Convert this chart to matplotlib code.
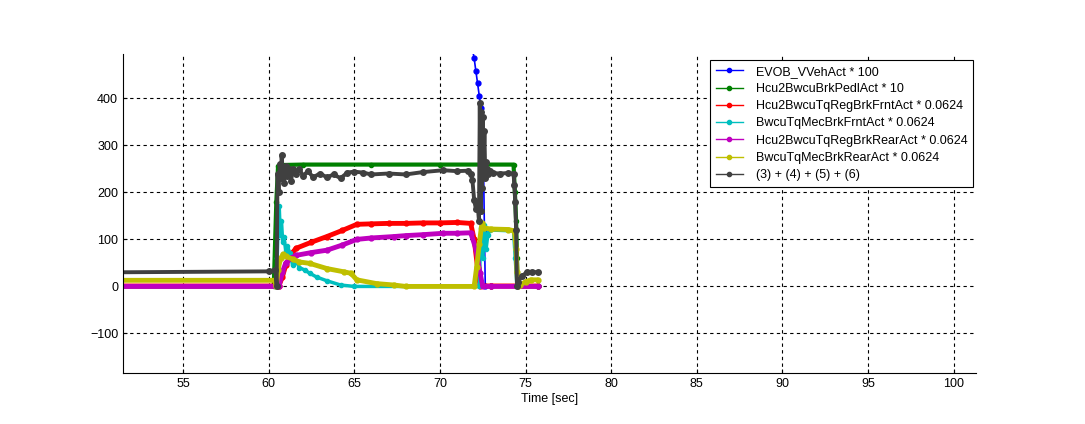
import matplotlib
matplotlib.use("Agg")
import matplotlib.pyplot as plt
from matplotlib.lines import Line2D

plt.rcParams['font.family'] = ['Liberation Sans', 'DejaVu Sans']

# series (time in sec, scaled value)
blue_t = [51.0, 60.0, 70.0, 71.6, 71.9, 72.0, 72.1, 72.2, 72.3, 72.4, 72.47, 72.55, 72.6, 72.65, 73.0, 75.7]
blue_v = [2500, 2200, 900, 600, 505, 485, 458, 432, 405, 380, 360, 250, 120, 0, 0, 0]

green_t = [51.0, 60.3, 60.45, 60.55, 60.7, 62.0, 66.0, 70.0, 74.3, 74.38, 74.45, 74.5, 74.55, 75.7]
green_v = [0, 0, 180, 255, 258, 259, 259, 259, 259, 200, 140, 60, 0, 0]

red_t = [51.0, 60.6, 60.8, 61.0, 61.35, 61.6, 62.5, 63.4, 64.3, 65.15, 66.0, 67.0, 68.0, 69.0,
         70.0, 71.0, 71.8, 72.0, 72.2, 72.35, 73.0, 75.7]
red_v = [1, 1, 20, 45, 70, 81, 94, 106, 119, 132, 133, 134, 134, 135, 135, 136, 134, 100, 40, 1, 1, 1]

cyan_t = [51.0, 60.4, 60.5, 60.55, 60.62, 60.68, 60.75, 60.82, 60.9, 61.0, 61.1, 61.25, 61.4, 61.6,
          61.8, 62.1, 62.4, 62.8, 63.4, 64.2, 65.0, 72.3, 72.4, 72.5, 72.6, 72.7, 72.8, 72.9,
          74.3, 74.4, 74.5, 75.7]
cyan_v = [0, 0, 60, 120, 170, 110, 140, 95, 105, 75, 85, 70, 45, 55, 40, 35, 28, 20, 12, 3, 0,
          0, 125, 60, 130, 80, 110, 120, 118, 60, 0, 0]

magenta_t = [51.0, 60.6, 60.8, 61.0, 61.3, 61.6, 62.5, 63.4, 64.3, 65.15, 66.0, 67.3, 68.0, 69.0,
             70.2, 71.0, 71.8, 72.1, 72.35, 72.5, 73.0, 75.7]
magenta_v = [0, 0, 30, 50, 60, 66, 72, 77, 88, 100, 103, 106, 108, 110, 113, 113, 114, 80, 28, 0, 0, 0]

yellow_t = [51.0, 60.35, 60.45, 60.55, 60.7, 60.85, 61.0, 61.4, 61.8, 62.4, 63.4, 64.4, 64.8,
            65.15, 66.3, 67.3, 68.0, 72.0, 72.15, 72.3, 72.45, 72.6, 73.0, 74.0, 74.35, 74.45,
            74.5, 74.55, 74.7, 75.0, 75.3, 75.7]
yellow_v = [13, 13, 0, 35, 60, 68, 64, 58, 52, 49, 38, 31, 28, 14, 6, 3, 0, 0, 42, 90, 134, 124,
            122, 121, 118, 80, 30, 0, 3, 10, 14, 14]

gray_t = [51.0, 60.0, 60.4, 60.47, 60.52, 60.58, 60.65, 60.72, 60.76, 60.82, 60.9, 61.0,
          61.1, 61.2, 61.3, 61.45, 61.6, 61.8, 62.0, 62.3, 62.6, 63.0, 63.4, 63.8, 64.2, 64.6,
          65.0, 65.5, 66.0, 67.0, 68.0, 69.0, 70.2, 71.0, 71.65, 71.8, 71.9, 72.0, 72.1, 72.2,
          72.28, 72.33, 72.38, 72.42, 72.46, 72.5, 72.55, 72.6, 72.65, 72.7, 72.75, 72.8, 72.9,
          73.1, 73.5, 74.0, 74.3, 74.35, 74.4, 74.45, 74.5, 74.55, 74.8, 75.1, 75.4, 75.7]
gray_v = [30, 32, 35, 0, 240, 200, 260, 230, 280, 245, 220, 255, 235, 250, 225, 250, 240,
          250, 235, 245, 232, 240, 232, 238, 230, 242, 244, 242, 238, 240, 238, 243, 247, 245,
          246, 240, 226, 184, 165, 175, 140, 390, 160, 370, 210, 360, 250, 330, 230, 265, 250,
          240, 245, 241, 240, 241, 240, 215, 180, 120, 0, 10, 22, 31, 31, 30]

labels = ['EVOB_VVehAct * 100', 'Hcu2BwcuBrkPedlAct * 10', 'Hcu2BwcuTqRegBrkFrntAct * 0.0624',
          'BwcuTqMecBrkFrntAct * 0.0624', 'Hcu2BwcuTqRegBrkRearAct * 0.0624',
          'BwcuTqMecBrkRearAct * 0.0624', '(3) + (4) + (5) + (6)']
colors = ['#0000ff', '#008000', '#ff0000', '#00bfbf', '#bf00bf', '#bfbf00', '#404040']

series = [(blue_t, blue_v), (green_t, green_v), (red_t, red_v), (cyan_t, cyan_v),
          (magenta_t, magenta_v), (yellow_t, yellow_v), (gray_t, gray_v)]
widths = [1.2, 3.0, 3.5, 2.5, 3.5, 3.5, 2.8]
msizes = [3.5, 3.0, 3.5, 3.0, 3.5, 3.5, 4.0]

fig = plt.figure(figsize=(10.85, 4.24), dpi=100)
ax = fig.add_axes([0.1134, 0.1203, 0.7861, 0.7523])

for (t, v), c, w, m in zip(series, colors, widths, msizes):
    ax.plot(t, v, color=c, lw=w, marker='o', ms=m, mec=c, mfc=c,
            solid_joinstyle='round', solid_capstyle='round')

ax.set_xlim(51.5, 101.3)
ax.set_ylim(-184, 494)
ax.set_xticks(range(55, 101, 5))
ax.set_yticks(range(-100, 401, 100))
ax.tick_params(direction='in', length=3, labelsize=9, width=0.8)
ax.grid(True, color='black', linestyle=(0, (3, 3)), linewidth=0.8)
ax.spines['top'].set_visible(False)
ax.spines['right'].set_visible(False)
ax.set_xlabel('Time [sec]', fontsize=9, labelpad=2)

handles = [Line2D([0], [0], color=c, lw=1, marker='o', ms=3) for c in colors]
leg = ax.legend(handles, labels, loc='upper right', bbox_to_anchor=(973 / 1085, 1 - 60 / 424),
                bbox_transform=fig.transFigure, borderaxespad=0, fontsize=9, fancybox=False,
                edgecolor='black', framealpha=1, labelspacing=0.42, handlelength=2.2,
                handletextpad=1.0, borderpad=0.45)
leg.get_frame().set_linewidth(0.8)

fig.savefig('out.png', dpi=100)
